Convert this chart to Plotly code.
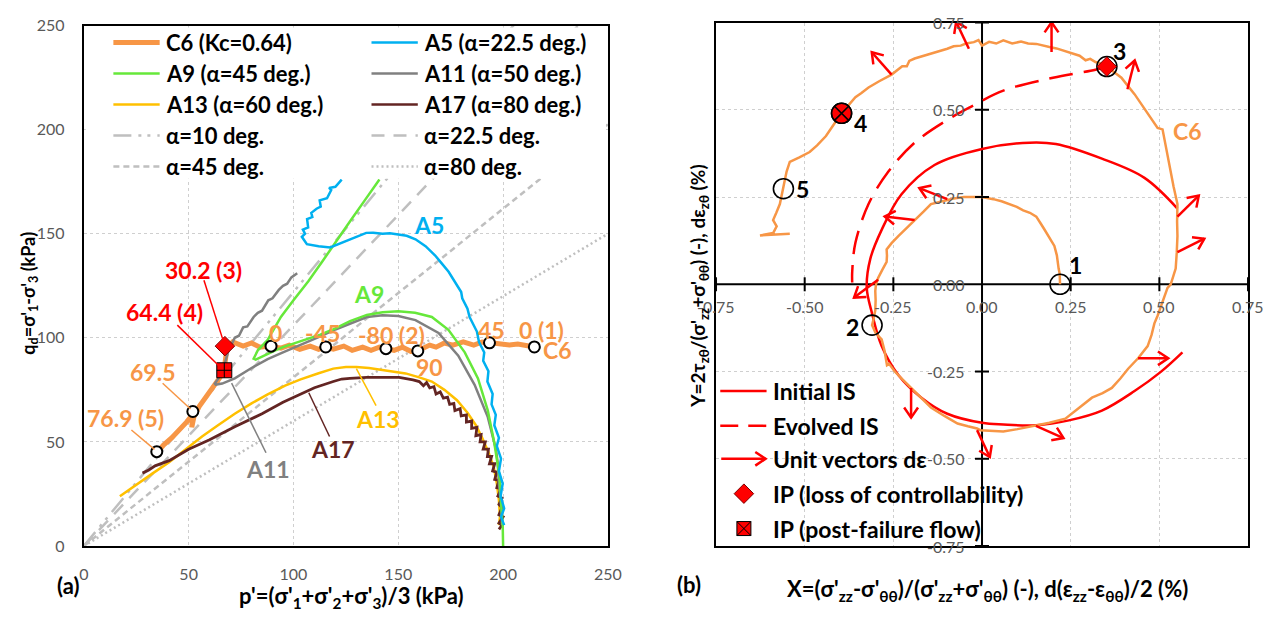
import math
import plotly.graph_objects as go

W, H = 1284, 618
FONT = "Lato"
TICK_GREY = "#595959"
GRID = "#CFCFCF"

ORANGE = "#F79646"
BLUE = "#00B0F0"
GREEN = "#66E83A"
GREY = "#808080"
GOLD = "#FFC000"
BROWN = "#632523"
REF_GREY = "#BFBFBF"
RED = "#FF0000"

# ---------------- (a) stress paths in the p'-q plane ----------------
c6_p = [35, 38, 42, 46, 49, 51, 52, 51.5, 52.5, 55, 58, 61, 63, 65, 66.5, 67, 67.5, 68, 69, 71, 73,
        76, 80, 84, 89, 94, 98, 103, 108, 112, 115, 119, 124, 128, 133, 137, 141, 144, 148, 152,
        156, 159, 162, 165, 168, 172, 176, 181, 186, 190, 194, 198, 203, 207, 211, 215]
c6_q = [45, 48.5, 52, 56, 59.5, 62, 64.5, 57, 62, 67, 71.5, 75, 78, 81, 83, 85, 89, 93, 96, 98, 97,
        96, 97.5, 95.5, 96, 95, 96.5, 94.5, 96, 94.5, 95.6, 94.5, 96, 94, 95.5, 94, 95.5, 95, 94,
        95.5, 93.5, 93.7, 95, 96.5, 95.5, 97.5, 96.5, 98, 96.5, 98, 97.6, 97, 96.5, 97, 96, 95.6]

a5_p = [200.5, 199, 200.5, 198.8, 199.8, 198, 199, 197, 198, 195.8, 196.5, 194.5, 195, 192.5, 193,
        190.5, 191, 188.5, 187.5, 186, 184, 183, 180.5, 180, 177, 174, 170.5, 167.6, 163, 158.2,
        154, 150.4, 146, 142.5, 138, 134.7, 130, 126.9, 122, 117.5, 112, 106.4, 104, 105.5, 104.5,
        107, 106.5, 109, 108.5, 111, 113, 112.5, 116, 118, 117, 120, 123]
a5_q = [10, 14, 18, 24, 30, 36, 42, 48, 52, 58, 63, 68, 73, 79, 84, 89, 93, 98, 103, 106, 110, 114,
        119, 122, 127, 131.7, 136, 139.5, 144, 147.3, 149, 149.6, 150.2, 150, 150.5, 150.4, 148.5,
        147, 145, 143.4, 144, 145, 148.5, 150, 152, 153, 157, 158, 160, 162, 163, 166, 167, 171,
        172, 172.5, 176]

a9_p = [200, 199.8, 199.2, 198.2, 195.8, 192.7, 188, 181.7, 173.9, 166, 158, 150, 142.5, 135, 127,
        120, 112.8, 103.4, 95, 90.8, 86, 82, 81, 83, 87.7, 94, 100, 107, 114, 120, 127, 134, 141]
a9_q = [0, 10, 18.5, 34, 49.5, 65, 80.5, 93, 103.8, 110, 112, 112.7, 112.3, 111, 108, 104.5, 101.5,
        98.4, 95.5, 93.7, 91.5, 89.5, 90, 94, 99, 110, 118, 127, 137, 146, 156, 166, 176]

a11_p = [199.5, 199, 198, 197.4, 196.6, 192.7, 186.4, 178.6, 169.2, 158.2, 150, 142.5, 135, 127,
         120, 112.8, 103.4, 95, 87.7, 80, 72, 66, 63, 62.5, 64.2, 67, 69, 72, 74, 76, 78, 81, 83,
         85, 88, 90, 93, 95, 97, 99, 101.8]
a11_q = [10, 20, 30, 40, 46.4, 61.9, 77.4, 91.4, 102.3, 108.5, 110.5, 110.8, 110, 107, 104, 100.7,
         96.8, 93, 89.8, 85.5, 80.5, 78, 77.5, 78, 80.5, 87, 93.7, 100, 101, 105, 105.5, 110, 112,
         113, 118, 119, 123, 125, 126, 129, 131]

a13_p = [17.2, 25, 33, 40.7, 48, 56.4, 64, 72, 80, 87.7, 96, 103.4, 112, 119, 125, 130, 136, 142.5,
         148, 153.5, 160, 166, 172, 178, 183, 187, 190, 193, 195.5, 197, 198, 198.5, 198]
a13_q = [23.9, 29.5, 35, 40.2, 46, 52.6, 58, 63.5, 68.5, 72.8, 77, 80, 83, 85.2, 86, 86, 85.5, 84.4,
         83.5, 82.9, 81, 79, 75, 70, 64, 58, 52, 45, 38, 30, 22, 14, 10]

a17_p = [28, 31, 34, 40.7, 50, 60, 72, 85, 95, 103.4, 110, 119, 123, 126.9, 135, 143, 150.4, 157,
         160, 162, 163.5, 165, 167, 168, 170, 171.5, 173.5, 174.5, 176.5, 177, 179.5, 180, 182.5,
         182.5, 185, 185, 187.5, 187, 189.5, 189, 191.5, 190.5, 193, 192.5, 194.5, 193.5, 196,
         195, 197, 196, 198, 197, 199, 197.5, 199.5, 198, 199.5, 198, 200, 198, 199.5, 198]
a17_q = [35, 36.5, 38.5, 41, 46.5, 51, 57.3, 63.5, 69, 72.8, 76, 79, 80.2, 80.5, 81, 81, 81, 79.8,
         79, 77, 78.5, 76, 76.5, 73, 74, 71, 71.5, 68, 68.5, 65, 66, 62.5, 63, 59.5, 60, 56.5, 57,
         53, 53.5, 50, 50, 46.5, 46.5, 43, 43, 39.5, 39.5, 36, 35.5, 32, 31.5, 28, 27.5, 24, 23,
         20, 18.5, 15, 14, 11, 10, 8]

# slopes q/p of the reference lines through the origin
alpha_names = ["α=10 deg.", "α=22.5 deg.", "α=45 deg.", "α=80 deg."]
alpha_slopes = [1.22, 1.06, 0.81, 0.60]
alpha_dash = ["18px,7px,3px,6px,3px,7px", "13px,9px", "6px,4px", "2px,3px"]

# points marked on C6 with their labels (deg.)
c6_mark_p = [34.8, 52, 89.3, 115.4, 144.1, 159.3, 193.5, 214.9]
c6_mark_q = [45.3, 64.6, 96, 95.6, 94.8, 93.7, 97.6, 95.6]
c6_mark_txt = ["", "", "0", "-45", "-80 (2)", "90", "45", "0 (1)"]
c6_txt_p = [None, None, 91.2, 113.7, 146.6, 164.9, 194.5, 218.5]
c6_txt_q = [None, None, 102.4, 102.4, 101.5, 86.1, 103.8, 103.8]

ip_diamond_pq = (67.3, 96.0)
ip_square_pq = (67.0, 84.4)

# ---------------- (b) normalised stress / strain-increment plane ----------------
c6x_y = [
    (0.22, 0.0), (0.219, 0.03), (0.216, 0.045), (0.214, 0.07), (0.211, 0.083), (0.204, 0.11),
    (0.19, 0.135), (0.176, 0.157), (0.165, 0.175), (0.153, 0.194), (0.135, 0.205), (0.116, 0.212),
    (0.098, 0.222), (0.079, 0.23), (0.055, 0.238), (0.032, 0.244), (0.012, 0.249), (0.0, 0.25),
    (-0.025, 0.25), (-0.051, 0.25), (-0.08, 0.246), (-0.107, 0.24), (-0.125, 0.236), (-0.144, 0.23),
    (-0.165, 0.208), (-0.19, 0.184), (-0.215, 0.16), (-0.236, 0.138), (-0.255, 0.118), (-0.269, 0.1),
    (-0.268, 0.082), (-0.269, 0.064), (-0.282, 0.04), (-0.293, 0.018), (-0.299, 0.0), (-0.301, -0.019),
    (-0.3, -0.045), (-0.301, -0.075), (-0.306, -0.1), (-0.31, -0.117), (-0.3, -0.14), (-0.283, -0.158),
    (-0.275, -0.19), (-0.272, -0.215), (-0.268, -0.232), (-0.262, -0.228), (-0.246, -0.25),
    (-0.225, -0.272), (-0.2, -0.297), (-0.17, -0.325), (-0.144, -0.353), (-0.105, -0.378),
    (-0.069, -0.399), (-0.04, -0.407), (-0.014, -0.413), (-0.005, -0.418), (0.025, -0.42),
    (0.06, -0.422), (0.1, -0.415), (0.152, -0.404), (0.19, -0.397), (0.235, -0.385), (0.27, -0.357),
    (0.31, -0.325), (0.34, -0.312), (0.366, -0.297), (0.39, -0.27), (0.412, -0.242), (0.44, -0.212),
    (0.467, -0.177), (0.478, -0.145), (0.486, -0.112), (0.495, -0.09), (0.504, -0.066), (0.515, -0.035),
    (0.523, -0.01), (0.532, 0.0), (0.54, 0.025), (0.546, 0.045), (0.549, 0.09), (0.551, 0.138),
    (0.55, 0.18), (0.551, 0.23), (0.54, 0.28), (0.532, 0.323), (0.524, 0.36), (0.518, 0.397),
    (0.509, 0.444), (0.495, 0.448), (0.48, 0.47), (0.467, 0.49), (0.45, 0.517), (0.43, 0.545),
    (0.41, 0.57), (0.393, 0.592), (0.37, 0.61), (0.352, 0.624), (0.335, 0.632), (0.32, 0.637),
    (0.305, 0.646), (0.292, 0.642), (0.275, 0.655), (0.26, 0.66), (0.245, 0.664), (0.227, 0.67),
    (0.21, 0.676), (0.19, 0.68), (0.17, 0.684), (0.153, 0.689), (0.13, 0.69), (0.11, 0.696),
    (0.085, 0.69), (0.06, 0.699), (0.04, 0.69), (0.02, 0.695), (0.0, 0.684), (-0.01, 0.7),
    (-0.023, 0.694), (-0.045, 0.69), (-0.06, 0.684), (-0.08, 0.682), (-0.098, 0.675), (-0.12, 0.668),
    (-0.14, 0.662), (-0.16, 0.657), (-0.19, 0.647), (-0.205, 0.64), (-0.212, 0.625), (-0.225, 0.625),
    (-0.24, 0.612), (-0.255, 0.601), (-0.29, 0.582), (-0.32, 0.564), (-0.34, 0.548), (-0.357, 0.536),
    (-0.375, 0.515), (-0.396, 0.49), (-0.418, 0.458), (-0.44, 0.425), (-0.465, 0.398), (-0.486, 0.379),
    (-0.515, 0.364), (-0.542, 0.351), (-0.551, 0.323), (-0.556, 0.3), (-0.56, 0.274), (-0.566, 0.25),
    (-0.57, 0.23), (-0.58, 0.205), (-0.589, 0.184), (-0.579, 0.166), (-0.589, 0.147), (-0.626, 0.14),
    (-0.6, 0.142), (-0.542, 0.145)]
c6b_x = [p[0] for p in c6x_y]
c6b_y = [p[1] for p in c6x_y]

is0_x = [0.565, 0.504, 0.43, 0.338, 0.245, 0.152, 0.06, 0.0, -0.098, -0.171, -0.236, -0.283, -0.31,
         -0.325, -0.315, -0.283, -0.227, -0.134, 0.0, 0.134, 0.208, 0.338, 0.458, 0.551]
is0_y = [-0.195, -0.251, -0.306, -0.362, -0.39, -0.404, -0.402, -0.397, -0.371, -0.325, -0.26,
         -0.177, -0.084, -0.01, 0.073, 0.156, 0.258, 0.342, 0.388, 0.406, 0.402, 0.36, 0.305, 0.217]

ev_x = [0.352, 0.32, 0.2, 0.06, -0.033, -0.098, -0.19, -0.264, -0.32, -0.357, -0.366, -0.366]
ev_y = [0.624, 0.615, 0.592, 0.555, 0.508, 0.471, 0.406, 0.323, 0.23, 0.119, 0.036, 0.005]

# unit vectors of the strain increment: base point and direction (deg.)
de_x = [-0.255, -0.037, 0.196, 0.41, 0.551, 0.551, 0.44, 0.152, -0.014, -0.2, -0.293, -0.19, -0.098]
de_y = [0.601, 0.675, 0.666, 0.559, 0.194, 0.092, -0.212, -0.406, -0.418, -0.297, 0.013, 0.184, 0.244]
de_ang = [131, 115, 90, 76, 45, 27, 0, -24, -65, -90, -143, 173, 158]

pt_x = [0.22, -0.31, 0.352, -0.396, -0.56]
pt_y = [0.0, -0.117, 0.624, 0.49, 0.274]
pt_lbl = ["1", "2", "3", "4", "5"]
pt_lbl_x = [0.263, -0.366, 0.389, -0.343, -0.505]
pt_lbl_y = [0.055, -0.121, 0.67, 0.462, 0.272]

ticks_b = [-0.75, -0.5, -0.25, 0.0, 0.25, 0.5, 0.75]

# ---------------------------------------------------------------------------
fig = go.Figure()

XA = dict(xaxis="x", yaxis="y")
XB = dict(xaxis="x2", yaxis="y2")

# reference lines
for m, dsh in zip(alpha_slopes, alpha_dash):
    fig.add_trace(go.Scatter(x=[0, 250], y=[0, 250 * m], mode="lines",
                             line=dict(color=REF_GREY, width=2.5, dash=dsh), **XA))

series_a = [
    ("C6 (Kc=0.64)", c6_p, c6_q, ORANGE, 5),
    ("A17 (α=80 deg.)", a17_p, a17_q, BROWN, 2.8),
    ("A13 (α=60 deg.)", a13_p, a13_q, GOLD, 2.5),
    ("A11 (α=50 deg.)", a11_p, a11_q, GREY, 2.5),
    ("A9 (α=45 deg.)", a9_p, a9_q, GREEN, 2.5),
    ("A5 (α=22.5 deg.)", a5_p, a5_q, BLUE, 2.5),
]
# draw the brown path after the gold one so it sits on top of it
order = [0, 2, 1, 3, 4, 5]
for i in order:
    name, xs, ys, col, w = series_a[i]
    fig.add_trace(go.Scatter(x=xs, y=ys, mode="lines", name=name,
                             line=dict(color=col, width=w), **XA))

fig.add_trace(go.Scatter(x=c6_mark_p, y=c6_mark_q, mode="markers",
                         marker=dict(symbol="circle", size=11, color="white",
                                     line=dict(color="black", width=2)), **XA))
fig.add_trace(go.Scatter(x=[ip_diamond_pq[0]], y=[ip_diamond_pq[1]], mode="markers",
                         marker=dict(symbol="diamond", size=15, color=RED,
                                     line=dict(color="#7F0000", width=1)), **XA))
fig.add_trace(go.Scatter(x=[ip_square_pq[0]], y=[ip_square_pq[1]], mode="markers",
                         marker=dict(symbol="square-cross", size=15, color=RED,
                                     line=dict(color="black", width=1)), **XA))

# ---- panel (b) traces
fig.add_trace(go.Scatter(x=is0_x, y=is0_y, mode="lines", line=dict(color=RED, width=2.5, shape="spline"), **XB))
fig.add_trace(go.Scatter(x=ev_x, y=ev_y, mode="lines",
                         line=dict(color=RED, width=2.5, dash="24px,11px", shape="spline"), **XB))
fig.add_trace(go.Scatter(x=c6b_x, y=c6b_y, mode="lines", line=dict(color=ORANGE, width=2.5), **XB))

ARROW_LEN, HEAD_LEN, HEAD_SPREAD = 0.085, 0.035, math.radians(34)


def arrow_path(x0, y0, ang, length=ARROW_LEN):
    t = math.radians(ang)
    x1, y1 = x0 + length * math.cos(t), y0 + length * math.sin(t)
    hx = [x1 + HEAD_LEN * math.cos(t + math.pi + s * HEAD_SPREAD) for s in (1, -1)]
    hy = [y1 + HEAD_LEN * math.sin(t + math.pi + s * HEAD_SPREAD) for s in (1, -1)]
    return [x0, x1, None, hx[0], x1, hx[1], None], [y0, y1, None, hy[0], y1, hy[1], None]


ax_, ay_ = [], []
for x0, y0, a in zip(de_x, de_y, de_ang):
    px_, py_ = arrow_path(x0, y0, a)
    ax_ += px_
    ay_ += py_
fig.add_trace(go.Scatter(x=ax_, y=ay_, mode="lines", line=dict(color=RED, width=2.5), **XB))

# axis tick crosses on the zero lines
tk = [t for t in ticks_b if t != 0]
fig.add_trace(go.Scatter(x=tk, y=[0] * len(tk), mode="markers",
                         marker=dict(symbol="line-ns", size=10, line=dict(color="black", width=2)), **XB))
fig.add_trace(go.Scatter(x=[0] * len(tk), y=tk, mode="markers",
                         marker=dict(symbol="line-ew", size=10, line=dict(color="black", width=2)), **XB))

fig.add_trace(go.Scatter(x=pt_x, y=pt_y, mode="markers",
                         marker=dict(symbol="circle-open", size=20, color="black", line=dict(width=1.6)), **XB))
fig.add_trace(go.Scatter(x=[pt_x[2]], y=[pt_y[2]], mode="markers",
                         marker=dict(symbol="diamond", size=15, color=RED, line=dict(color="#7F0000", width=1)), **XB))
fig.add_trace(go.Scatter(x=[pt_x[3]], y=[pt_y[3]], mode="markers",
                         marker=dict(symbol="circle-x", size=20, color=RED, line=dict(color="black", width=1.6)), **XB))

# ---------------------------------------------------------------------------
shapes, annots = [], []


def pxp(px):
    return px / W


def pyp(py):
    return 1 - py / H


def bx(px):
    # pixel -> data X in panel (b)
    return (px - 991.7) / 360.0


def by(py):
    return (283.0 - py) / 360.0


def text(x, y, s, color="black", size=23, xref="x", yref="y", xanchor="center", bold=True,
         angle=0, yanchor="middle", xshift=0, yshift=0, fam=FONT):
    annots.append(dict(x=x, y=y, xref=xref, yref=yref, text=s, showarrow=False, xanchor=xanchor,
                       yanchor=yanchor, textangle=angle, xshift=xshift, yshift=yshift,
                       font=dict(family=fam, size=size, color=color, weight="bold" if bold else "normal")))


# legend of panel (a): white box with two columns of samples
shapes.append(dict(type="rect", xref="paper", yref="paper", x0=pxp(82), x1=pxp(610), y0=pyp(174),
                   y1=pyp(18), fillcolor="white", line=dict(width=0), layer="above"))
legend_a = [
    [("C6 (Kc=0.64)", ORANGE, 5, "solid"), ("A9 (α=45 deg.)", GREEN, 2.5, "solid"),
     ("A13 (α=60 deg.)", GOLD, 2.5, "solid"), (alpha_names[0], REF_GREY, 2.5, alpha_dash[0]),
     (alpha_names[2], REF_GREY, 2.5, alpha_dash[2])],
    [("A5 (α=22.5 deg.)", BLUE, 2.5, "solid"), ("A11 (α=50 deg.)", GREY, 2.5, "solid"),
     ("A17 (α=80 deg.)", BROWN, 2.5, "solid"), (alpha_names[1], REF_GREY, 2.5, alpha_dash[1]),
     (alpha_names[3], REF_GREY, 2.5, alpha_dash[3])],
]
col_x = [110, 372]
for ci, col in enumerate(legend_a):
    for ri, (nm, c, w, d) in enumerate(col):
        yy = 33.5 + ri * 32.0
        shapes.append(dict(type="line", xref="paper", yref="paper", x0=pxp(col_x[ci]),
                           x1=pxp(col_x[ci] + 47), y0=pyp(yy), y1=pyp(yy),
                           line=dict(color=c, width=w, dash=d), layer="above"))
        text(pxp(col_x[ci] + 51), pyp(yy), nm, xref="paper", yref="paper", xanchor="left", size=22)

# labels in panel (a)
for s, x, y in zip(c6_mark_txt, c6_txt_p, c6_txt_q):
    if s:
        text(x, y, s, ORANGE)
text(226, 94, "C6", ORANGE)
text(164.5, 154, "A5", BLUE)
text(135.8, 121, "A9", GREEN)
text(140.5, 61, "A13", GOLD)
text(118.9, 46.6, "A17", BROWN)
text(87.9, 37.2, "A11", GREY)
text(57.3, 132.7, "30.2 (3)", RED)
text(38.5, 112.2, "64.4 (4)", RED)
text(32.9, 83.8, "69.5", ORANGE)
text(19.7, 61.5, "76.9 (5)", ORANGE)

leaders = [
    ((57.3, 127.6), ip_diamond_pq, RED), ((44.6, 106.1), (64.4, 86.6), RED),
    ((37.6, 78.2), (50.9, 65.8), ORANGE), ((22.7, 55.7), (33.7, 46.4), ORANGE),
    ((139.4, 67.4), (130, 85.2), GOLD), ((117.2, 52.6), (107.3, 73.6), BROWN),
    ((86.9, 44.8), (70.5, 78.2), GREY),
]
for (x0, y0), (x1, y1), c in leaders:
    shapes.append(dict(type="line", xref="x", yref="y", x0=x0, y0=y0, x1=x1, y1=y1,
                       line=dict(color=c, width=1.5)))

# axis titles of panel (a)
text(pxp(352), pyp(606), "p'=(σ'<sub>1</sub>+σ'<sub>2</sub>+σ'<sub>3</sub>)/3 (kPa)", xref="paper", yref="paper", size=22)
text(pxp(24), pyp(292), "q<sub>d</sub>=σ'<sub>1</sub>-σ'<sub>3</sub> (kPa)", xref="paper", yref="paper", size=18, angle=-90)
text(pxp(64), pyp(594), "(a)", xref="paper", yref="paper", size=22)

# panel (b): tick labels along the crossing axes
for t in ticks_b:
    text(t, 0, f"{t:.2f}", TICK_GREY, 16, "x2", "y2", bold=False, yshift=-22)
    text(0, t, f"{t:.2f}", TICK_GREY, 16, "x2", "y2", bold=False, xanchor="right", xshift=-15)

for s, x, y in zip(pt_lbl, pt_lbl_x, pt_lbl_y):
    text(x, y, s, "black", 23, "x2", "y2")
text(0.579, 0.439, "C6", ORANGE, 23, "x2", "y2")

# legend of panel (b)
leg_rows = [393, 429, 463, 499, 535]
shapes.append(dict(type="line", xref="x2", yref="y2", x0=bx(726), x1=bx(773), y0=by(leg_rows[0]),
                   y1=by(leg_rows[0]), line=dict(color=RED, width=2.5)))
shapes.append(dict(type="line", xref="x2", yref="y2", x0=bx(726), x1=bx(773), y0=by(leg_rows[1]),
                   y1=by(leg_rows[1]), line=dict(color=RED, width=2.5, dash="18px,10px")))
lx, ly = arrow_path(bx(727), by(leg_rows[2]), 0, length=bx(772) - bx(727))
fig.add_trace(go.Scatter(x=lx, y=ly, mode="lines", line=dict(color=RED, width=2.5), **XB))
fig.add_trace(go.Scatter(x=[bx(750)], y=[by(leg_rows[3])], mode="markers",
                         marker=dict(symbol="diamond", size=15, color=RED, line=dict(color="#7F0000", width=1)), **XB))
fig.add_trace(go.Scatter(x=[bx(750)], y=[by(leg_rows[4])], mode="markers",
                         marker=dict(symbol="square-x", size=14, color=RED, line=dict(color="black", width=1)), **XB))
leg_b = ["Initial IS", "Evolved IS", "Unit vectors dε", "IP (loss of controllability)", "IP (post-failure flow)"]
for s, r in zip(leg_b, leg_rows):
    text(bx(777), by(r), s, "black", 23, "x2", "y2", xanchor="left")

text(pxp(997), pyp(598), "X=(σ'<sub>zz</sub>-σ'<sub>θθ</sub>)/(σ'<sub>zz</sub>+σ'<sub>θθ</sub>) (-), d(ε<sub>zz</sub>-ε<sub>θθ</sub>)/2 (%)",
     xref="paper", yref="paper", size=22)
text(pxp(705), pyp(285), "Y=2τ<sub>zθ</sub>/(σ'<sub>zz</sub>+σ'<sub>θθ</sub>) (-), dε<sub>zθ</sub> (%)",
     xref="paper", yref="paper", size=19, angle=-90)
text(pxp(694), pyp(593), "(b)", xref="paper", yref="paper", size=22)

axis_common = dict(showline=True, linecolor="black", linewidth=2, mirror=True, zeroline=False,
                   showgrid=True, gridcolor=GRID, gridwidth=1, griddash="dot",
                   tickfont=dict(family=FONT, size=16, color=TICK_GREY), ticks="")

fig.update_layout(
    width=W, height=H, margin=dict(l=0, r=0, t=0, b=0),
    paper_bgcolor="white", plot_bgcolor="white", showlegend=False,
    font=dict(family=FONT),
    xaxis=dict(domain=[80 / W, 612 / W], range=[0, 250], dtick=50, anchor="y",
               ticklabelstandoff=13, **axis_common),
    yaxis=dict(domain=[1 - 553 / H, 1 - 16 / H], range=[0, 250], dtick=50, anchor="x",
               ticklabelstandoff=14, **axis_common),
    xaxis2=dict(domain=[721.7 / W, 1261.7 / W], range=[-0.75, 0.75], dtick=0.25, anchor="y2",
                showticklabels=False, **axis_common),
    yaxis2=dict(domain=[1 - 553 / H, 1 - 13 / H], range=[-0.75, 0.75], dtick=0.25, anchor="x2",
                showticklabels=False, **axis_common),
    shapes=shapes + [
        dict(type="line", xref="x2", yref="y2", x0=-0.75, x1=0.75, y0=0, y1=0,
             line=dict(color="black", width=2), layer="between"),
        dict(type="line", xref="x2", yref="y2", x0=0, x1=0, y0=-0.75, y1=0.75,
             line=dict(color="black", width=2), layer="between"),
    ],
    annotations=annots,
)

fig.write_html("out.html")
